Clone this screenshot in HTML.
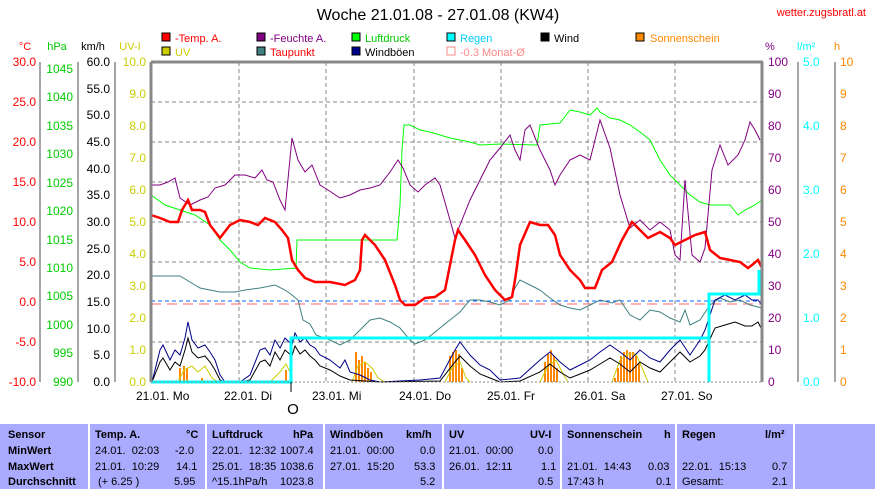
<!DOCTYPE html>
<html><head><meta charset="utf-8"><style>
body{margin:0;background:#fff;width:875px;height:489px;overflow:hidden;font-family:"Liberation Sans",sans-serif}
svg text{font-family:"Liberation Sans",sans-serif}
.tb{position:absolute;left:0;top:424px;width:875px;height:65px;background:#aaaaff}
.c{position:absolute;font-size:11px;white-space:nowrap}
.b{font-weight:bold}
.d{position:absolute;top:424px;width:2px;height:65px;background:#fff}
</style></head><body>
<svg width="875" height="424" style="position:absolute;left:0;top:0" font-size="12">
<text x="438" y="20" font-size="16" text-anchor="middle">Woche 21.01.08 - 27.01.08 (KW4)</text>
<text x="866" y="16" font-size="11" fill="#f00" text-anchor="end">wetter.zugsbratl.at</text>
<!-- legend -->
<g font-size="11">
<rect x="162" y="33" width="8" height="8" fill="#f00" stroke="#000"/><text x="175" y="42" fill="#f00">-Temp. A.</text>
<rect x="257" y="33" width="8" height="8" fill="#800080" stroke="#000"/><text x="270" y="42" fill="#800080">-Feuchte A.</text>
<rect x="352" y="33" width="8" height="8" fill="#0f0" stroke="#000"/><text x="365" y="42" fill="#0c0">Luftdruck</text>
<rect x="447" y="33" width="8" height="8" fill="#0ff" stroke="#000"/><text x="460" y="42" fill="#0cf">Regen</text>
<rect x="541" y="33" width="8" height="8" fill="#000" stroke="#000"/><text x="554" y="42">Wind</text>
<rect x="636" y="33" width="8" height="8" fill="#f80" stroke="#000"/><text x="650" y="42" fill="#f80">Sonnenschein</text>
<rect x="162" y="47" width="8" height="8" fill="#cc0" stroke="#000"/><text x="175" y="56" fill="#cc0">UV</text>
<rect x="257" y="47" width="8" height="8" fill="#408080" stroke="#000"/><text x="270" y="56" fill="#f00">Taupunkt</text>
<rect x="352" y="47" width="8" height="8" fill="#008" stroke="#000"/><text x="365" y="56">Windböen</text>
<rect x="447" y="47" width="8" height="8" fill="#fff" stroke="#f88"/><text x="460" y="56" fill="#f88">-0.3 Monat-Ø</text>
</g>
<!-- axis headers -->
<text x="25" y="50" fill="#f00" text-anchor="middle" font-size="11">°C</text>
<text x="57" y="50" fill="#0c0" text-anchor="middle" font-size="11">hPa</text>
<text x="93" y="50" text-anchor="middle" font-size="11">km/h</text>
<text x="130" y="50" fill="#cc0" text-anchor="middle" font-size="11">UV-I</text>
<text x="765" y="50" fill="#800080" font-size="11">%</text>
<text x="797" y="50" fill="#0ff" font-size="11">l/m²</text>
<text x="834" y="50" fill="#f80" font-size="11">h</text>
<!-- axis lines -->
<g stroke="#888" stroke-width="1.5">
<line x1="40" y1="62" x2="40" y2="382"/><line x1="78" y1="62" x2="78" y2="382"/><line x1="115" y1="62" x2="115" y2="382"/>
<line x1="798" y1="62" x2="798" y2="382"/><line x1="835" y1="62" x2="835" y2="382"/>
</g>
<g id="ticks" font-size="12">
<g fill="#f00" text-anchor="end">
<text x="36" y="66">30.0</text><text x="36" y="106">25.0</text><text x="36" y="146">20.0</text><text x="36" y="186">15.0</text><text x="36" y="226">10.0</text><text x="36" y="266">5.0</text><text x="36" y="306">0.0</text><text x="36" y="346">-5.0</text><text x="36" y="386">-10.0</text>
</g>
<g fill="#0c0" text-anchor="end">
<text x="73" y="73">1045</text><text x="73" y="101">1040</text><text x="73" y="130">1035</text><text x="73" y="158">1030</text><text x="73" y="187">1025</text><text x="73" y="215">1020</text><text x="73" y="244">1015</text><text x="73" y="272">1010</text><text x="73" y="300">1005</text><text x="73" y="329">1000</text><text x="73" y="357">995</text><text x="73" y="386">990</text>
</g>
<g text-anchor="end">
<text x="110" y="66">60.0</text><text x="110" y="93">55.0</text><text x="110" y="119">50.0</text><text x="110" y="146">45.0</text><text x="110" y="173">40.0</text><text x="110" y="199">35.0</text><text x="110" y="226">30.0</text><text x="110" y="253">25.0</text><text x="110" y="279">20.0</text><text x="110" y="306">15.0</text><text x="110" y="333">10.0</text><text x="110" y="359">5.0</text><text x="110" y="386">0.0</text>
</g>
<g fill="#cc0" text-anchor="end">
<text x="146" y="66">10.0</text><text x="146" y="98">9.0</text><text x="146" y="130">8.0</text><text x="146" y="162">7.0</text><text x="146" y="194">6.0</text><text x="146" y="226">5.0</text><text x="146" y="258">4.0</text><text x="146" y="290">3.0</text><text x="146" y="322">2.0</text><text x="146" y="354">1.0</text><text x="146" y="386">0.0</text>
</g>
<g fill="#800080">
<text x="768" y="66">100</text><text x="768" y="98">90</text><text x="768" y="130">80</text><text x="768" y="162">70</text><text x="768" y="194">60</text><text x="768" y="226">50</text><text x="768" y="258">40</text><text x="768" y="290">30</text><text x="768" y="322">20</text><text x="768" y="354">10</text><text x="768" y="386">0</text>
</g>
<g fill="#0ff">
<text x="803" y="66">5.0</text><text x="803" y="130">4.0</text><text x="803" y="194">3.0</text><text x="803" y="258">2.0</text><text x="803" y="322">1.0</text><text x="803" y="386">0.0</text>
</g>
<g fill="#f80">
<text x="840" y="66">10</text><text x="840" y="98">9</text><text x="840" y="130">8</text><text x="840" y="162">7</text><text x="840" y="194">6</text><text x="840" y="226">5</text><text x="840" y="258">4</text><text x="840" y="290">3</text><text x="840" y="322">2</text><text x="840" y="354">1</text><text x="840" y="386">0</text>
</g>
</g>
<!-- grid -->
<g stroke="#888" stroke-dasharray="4,3">
<line x1="239" y1="62" x2="239" y2="382"/><line x1="326" y1="62" x2="326" y2="382"/><line x1="414" y1="62" x2="414" y2="382"/><line x1="501" y1="62" x2="501" y2="382"/><line x1="588" y1="62" x2="588" y2="382"/><line x1="675" y1="62" x2="675" y2="382"/>
<line x1="151" y1="102" x2="762" y2="102"/><line x1="151" y1="142" x2="762" y2="142"/><line x1="151" y1="182" x2="762" y2="182"/><line x1="151" y1="222" x2="762" y2="222"/><line x1="151" y1="262" x2="762" y2="262"/><line x1="151" y1="342" x2="762" y2="342"/>
</g>
<line x1="151" y1="304" x2="762" y2="304" stroke="#f66" stroke-dasharray="10,6"/>
<line x1="151" y1="301" x2="762" y2="301" stroke="#06f" stroke-dasharray="4,3"/>
<!-- sunshine bars -->
<g fill="#f80">
<rect x="179" y="368" width="2" height="14"/><rect x="183" y="366" width="2" height="16"/><rect x="186" y="368" width="2" height="14"/><rect x="201" y="378" width="2" height="4"/>
<rect x="285" y="370" width="2" height="12"/>
<rect x="355" y="352" width="2" height="30"/><rect x="358" y="360" width="2" height="22"/><rect x="361" y="356" width="2" height="26"/><rect x="364" y="362" width="2" height="20"/><rect x="367" y="368" width="2" height="14"/><rect x="370" y="372" width="2" height="10"/>
<rect x="449" y="356" width="2" height="26"/><rect x="452" y="352" width="2" height="30"/><rect x="455" y="350" width="2" height="32"/><rect x="458" y="354" width="2" height="28"/><rect x="461" y="368" width="2" height="14"/>
<rect x="544" y="362" width="2" height="20"/><rect x="547" y="354" width="2" height="28"/><rect x="550" y="350" width="2" height="32"/><rect x="553" y="356" width="2" height="26"/><rect x="556" y="368" width="2" height="14"/>
<rect x="614" y="378" width="2" height="4"/><rect x="617" y="368" width="2" height="14"/><rect x="620" y="356" width="2" height="26"/><rect x="623" y="352" width="2" height="30"/><rect x="626" y="350" width="2" height="32"/><rect x="629" y="352" width="2" height="30"/><rect x="632" y="352" width="2" height="30"/><rect x="635" y="356" width="2" height="26"/><rect x="638" y="364" width="2" height="18"/>
</g>
<!-- UV -->
<g fill="none" stroke="#cc0">
<polyline points="178,382 184,370 192,366 198,372 205,366 212,378 218,382"/>
<polyline points="270,382 280,372 286,364 290,372"/>
<polyline points="352,382 358,366 365,362 372,368 378,378 385,382"/>
<polyline points="445,382 452,368 460,362 466,378 470,382"/>
<polyline points="540,382 548,366 556,360 562,372 568,382"/>
<polyline points="612,382 620,360 628,354 636,354 642,368 648,382"/>
</g>
<!-- dewpoint -->
<polyline fill="none" stroke="#408080" points="151,276 180,276 190,282 200,288 210,290 220,292 235,292 245,290 260,288 275,285 285,290 292,295 298,300 303,320 310,324 316,335 330,340 340,345 350,340 360,330 370,320 380,318 390,322 400,328 410,340 415,344 425,340 430,336 440,328 450,320 460,312 470,300 480,300 490,302 500,305 510,300 515,288 520,280 530,285 540,290 550,298 560,305 570,308 580,310 590,305 600,300 612,303 620,300 630,315 640,320 650,310 660,312 670,318 680,322 685,310 690,325 700,320 710,305 720,298 730,302 740,300 750,305 762,308"/>
<!-- pressure -->
<polyline fill="none" stroke="#0f0" points="151,195 165,205 180,210 195,215 210,225 220,240 230,250 240,262 250,268 270,270 296,268 297,240 397,240 400,205 402,150 404,125 410,125 420,130 430,132 440,135 450,138 460,140 470,142 480,145 500,144 537,145 540,125 560,123 570,110 580,112 590,115 597,108 600,112 610,118 620,120 630,125 640,132 650,140 660,160 670,175 680,185 690,195 700,202 710,205 730,205 738,215 745,210 755,205 762,200"/>
<!-- humidity -->
<polyline fill="none" stroke="#800080" points="151,185 160,185 168,182 175,178 180,198 190,205 200,200 208,197 215,188 225,185 235,175 245,175 255,178 262,170 267,180 273,182 280,200 285,210 292,138 298,160 305,172 312,165 320,185 328,190 340,198 350,195 360,190 370,188 380,185 390,172 398,160 403,168 410,185 418,192 425,185 435,178 440,185 450,220 455,238 460,225 470,200 480,180 490,160 500,148 510,135 515,150 520,160 525,130 530,125 540,150 550,170 555,185 560,175 570,160 580,155 590,160 600,120 610,148 620,195 630,228 640,220 650,230 660,222 670,230 675,255 680,260 685,180 692,255 700,262 705,248 712,170 720,145 728,165 738,155 745,140 750,122 755,130 760,140"/>
<!-- temp -->
<polyline fill="none" stroke="#f00" stroke-width="2.5" points="151,215 160,218 170,222 178,222 182,210 188,200 192,210 200,210 205,212 210,225 220,238 230,225 240,220 250,222 258,225 265,218 275,222 282,230 288,238 292,260 298,270 305,278 315,282 330,282 345,285 355,280 360,270 362,240 365,235 375,245 385,260 395,285 400,300 405,305 415,305 425,298 435,297 445,290 450,265 455,240 458,230 465,240 475,255 485,275 495,290 505,300 512,297 515,280 520,245 530,222 540,225 548,225 555,235 560,255 570,270 580,280 585,288 595,288 602,270 612,262 622,240 632,222 640,230 648,238 660,232 670,238 675,245 685,240 695,235 705,232 710,250 720,258 730,260 740,262 748,268 752,265 758,260 762,268"/>
<!-- wind gusts -->
<polyline fill="none" stroke="#008" points="152,382 160,350 163,345 170,360 175,350 180,355 185,338 188,322 192,340 198,348 205,345 210,352 215,360 220,375 225,382 240,382 250,375 260,350 265,348 270,355 275,340 280,348 285,338 292,345 295,333 300,342 305,338 310,345 315,348 320,355 330,360 340,368 345,360 350,372 360,375 370,380 380,382 400,381 420,380 440,378 455,350 460,342 470,355 480,365 490,370 500,380 520,378 540,360 550,352 560,362 570,370 580,365 590,360 600,352 610,345 620,352 630,360 640,350 650,358 660,362 670,350 680,340 690,355 700,340 705,330 715,300 725,295 735,300 745,295 752,300 758,300 762,305"/>
<polyline fill="none" stroke="#000" points="152,382 160,362 163,358 170,370 175,362 180,366 185,350 188,338 192,352 198,358 205,356 210,362 215,370 220,380 225,382 240,382 250,380 260,362 265,360 270,366 275,352 280,360 285,350 292,356 295,346 300,354 305,350 310,356 315,360 320,366 330,370 340,376 350,380 380,382 440,381 455,362 460,356 470,366 480,374 490,378 500,382 520,381 540,372 550,364 560,372 570,378 580,374 590,370 600,364 610,358 620,364 630,372 640,362 650,368 660,372 670,362 680,352 690,362 700,356 705,350 715,328 725,325 735,322 745,326 752,326 758,322 762,330"/>
<!-- rain -->
<polyline fill="none" stroke="#0ff" stroke-width="3" points="151,382 291,382 291,338 709,338 709,294 759,294 759,270"/>
<line x1="709" y1="338" x2="709" y2="382" stroke="#0ff" stroke-width="3"/>
<line x1="762" y1="250" x2="762" y2="382" stroke="#0ff" stroke-width="2"/>
<!-- frame -->
<g stroke="#888" stroke-width="3"><line x1="151" y1="62" x2="763" y2="62"/><line x1="151" y1="62" x2="151" y2="382"/><line x1="762" y1="62" x2="762" y2="382"/></g>
<line x1="151" y1="382" x2="762" y2="382" stroke="#888" stroke-dasharray="2,2"/>
<line x1="291" y1="382" x2="291" y2="392" stroke="#000"/>
<text x="293" y="414" font-size="15" text-anchor="middle">O</text>
<g font-size="12">
<text x="136" y="400">21.01. Mo</text><text x="224" y="400">22.01. Di</text><text x="312" y="400">23.01. Mi</text><text x="399" y="400">24.01. Do</text><text x="487" y="400">25.01. Fr</text><text x="574" y="400">26.01. Sa</text><text x="661" y="400">27.01. So</text>
</g>
</svg>
<div class="tb"></div>
<div class="d" style="left:88px"></div><div class="d" style="left:205px"></div><div class="d" style="left:323px"></div><div class="d" style="left:442px"></div><div class="d" style="left:560px"></div><div class="d" style="left:675px"></div><div class="d" style="left:793px"></div>
<div class="c b" style="left:8px;top:429px">Sensor</div><div class="c b" style="left:8px;top:445px">MinWert</div><div class="c b" style="left:8px;top:461px">MaxWert</div><div class="c b" style="left:8px;top:476px">Durchschnitt</div>
<div class="c b" style="left:95px;top:429px">Temp. A.</div><div class="c b" style="left:186px;top:429px">°C</div>
<div class="c" style="left:95px;top:445px">24.01.&nbsp; 02:03</div><div class="c" style="left:175px;top:445px">-2.0</div>
<div class="c" style="left:95px;top:461px">21.01.&nbsp; 10:29</div><div class="c" style="left:176px;top:461px">14.1</div>
<div class="c" style="left:98px;top:476px">(+ 6.25 )</div><div class="c" style="left:174px;top:476px">5.95</div>
<div class="c b" style="left:212px;top:429px">Luftdruck</div><div class="c b" style="left:293px;top:429px">hPa</div>
<div class="c" style="left:212px;top:445px">22.01.&nbsp; 12:32</div><div class="c" style="left:280px;top:445px">1007.4</div>
<div class="c" style="left:212px;top:461px">25.01.&nbsp; 18:35</div><div class="c" style="left:280px;top:461px">1038.6</div>
<div class="c" style="left:212px;top:476px">^15.1hPa/h</div><div class="c" style="left:280px;top:476px">1023.8</div>
<div class="c b" style="left:330px;top:429px">Windböen</div><div class="c b" style="left:406px;top:429px">km/h</div>
<div class="c" style="left:330px;top:445px">21.01.&nbsp; 00:00</div><div class="c" style="left:420px;top:445px">0.0</div>
<div class="c" style="left:330px;top:461px">27.01.&nbsp; 15:20</div><div class="c" style="left:414px;top:461px">53.3</div>
<div class="c" style="left:420px;top:476px">5.2</div>
<div class="c b" style="left:449px;top:429px">UV</div><div class="c b" style="left:530px;top:429px">UV-I</div>
<div class="c" style="left:449px;top:445px">21.01.&nbsp; 00:00</div><div class="c" style="left:538px;top:445px">0.0</div>
<div class="c" style="left:449px;top:461px">26.01.&nbsp; 12:11</div><div class="c" style="left:541px;top:461px">1.1</div>
<div class="c" style="left:538px;top:476px">0.5</div>
<div class="c b" style="left:567px;top:429px">Sonnenschein</div><div class="c b" style="left:664px;top:429px">h</div>
<div class="c" style="left:567px;top:461px">21.01.&nbsp; 14:43</div><div class="c" style="left:648px;top:461px">0.03</div>
<div class="c" style="left:567px;top:476px">17:43 h</div><div class="c" style="left:656px;top:476px">0.1</div>
<div class="c b" style="left:682px;top:429px">Regen</div><div class="c b" style="left:765px;top:429px">l/m²</div>
<div class="c" style="left:682px;top:461px">22.01.&nbsp; 15:13</div><div class="c" style="left:772px;top:461px">0.7</div>
<div class="c" style="left:682px;top:476px">Gesamt:</div><div class="c" style="left:772px;top:476px">2.1</div>
</body></html>
